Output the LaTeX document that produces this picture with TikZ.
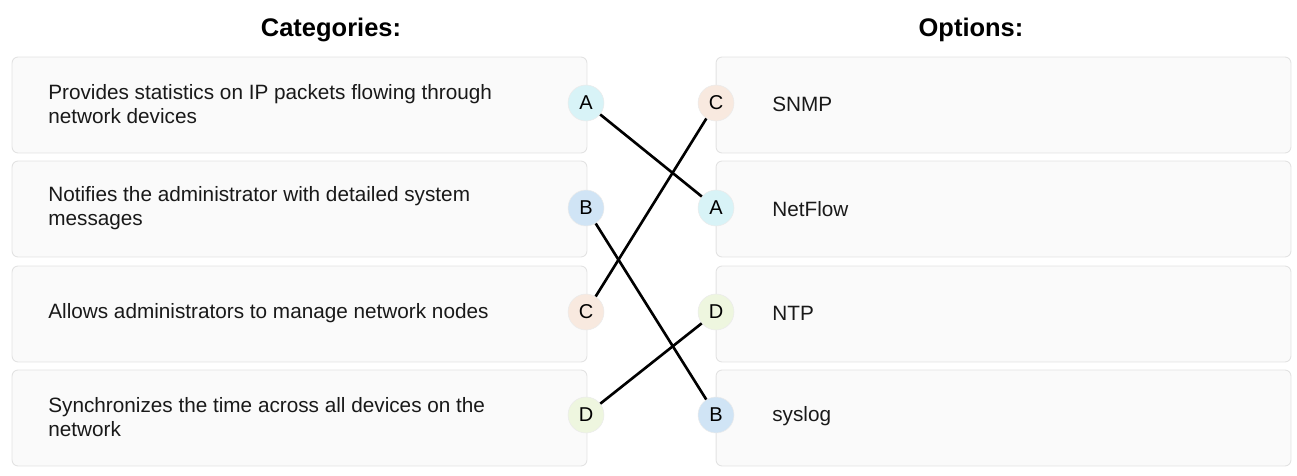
\documentclass[tikz,border=0pt]{standalone}
\usepackage{fontspec}
\setmainfont{Liberation Sans}
\usetikzlibrary{positioning}
\definecolor{boxfill}{HTML}{FAFAFA}
\definecolor{boxline}{HTML}{E2E2E2}
\definecolor{cA}{HTML}{D8F3F7}
\definecolor{cB}{HTML}{D0E4F5}
\definecolor{cC}{HTML}{F8E9DF}
\definecolor{cD}{HTML}{EEF6DF}
\tikzstyle{itemBox} = [rectangle, minimum width=11.5cm, minimum height=1.92cm, rounded corners=0.12cm, draw=boxline, fill=boxfill, line width=0.5pt]
\tikzstyle{itemText} = [anchor=west, align=left, font=\fontsize{11.8}{13.4}\selectfont, inner sep=0pt, text=black!90]
\tikzstyle{tag} = [circle, minimum size=0.72cm, inner sep=0pt, draw=white!92!black, line width=0.3pt, font=\fontsize{11.4}{12}\selectfont]
\tikzstyle{head} = [font=\bfseries\fontsize{14.5}{16}\selectfont]
\tikzstyle{link} = [line width=1.5pt, draw=black]

\begin{document}
\begin{tikzpicture}[x=0.02cm, y=-0.02cm]
    \useasboundingbox (0,0) rectangle (1297,476);
    \node (headL) [head] at (331,30) {Categories:};
    \node (headR) [head] at (971,30) {Options:};

    % categories
    \node (cat1) [itemBox] at (299.5,105) {};
    \node (cat2) [itemBox] at (299.5,209) {};
    \node (cat3) [itemBox] at (299.5,314) {};
    \node (cat4) [itemBox] at (299.5,418) {};
    \node [itemText] at (48,104) {Provides statistics on IP packets flowing through\\network devices};
    \node [itemText] at (48,208) {Notifies the administrator with detailed system\\messages};
    \node [itemText] at (48,313) {Allows administrators to manage network nodes};
    \node [itemText] at (48,417) {Synchronizes the time across all devices on the\\network};

    % options
    \node (opt1) [itemBox] at (1003.5,105) {};
    \node (opt2) [itemBox] at (1003.5,209) {};
    \node (opt3) [itemBox] at (1003.5,314) {};
    \node (opt4) [itemBox] at (1003.5,418) {};
    \node [itemText] at (772,104) {SNMP};
    \node [itemText] at (772,209) {NetFlow};
    \node [itemText] at (772,313) {NTP};
    \node [itemText] at (772,416) {syslog};

    % tags
    \node (lA) [tag, fill=cA] at (586,103) {A};
    \node (lB) [tag, fill=cB] at (586,208) {B};
    \node (lC) [tag, fill=cC] at (586,312) {C};
    \node (lD) [tag, fill=cD] at (586,415) {D};
    \node (rC) [tag, fill=cC] at (716,103) {C};
    \node (rA) [tag, fill=cA] at (716,208) {A};
    \node (rD) [tag, fill=cD] at (716,312) {D};
    \node (rB) [tag, fill=cB] at (716,415) {B};

    \draw [link] (lA) -- (rA);
    \draw [link] (lB) -- (rB);
    \draw [link] (lC) -- (rC);
    \draw [link] (lD) -- (rD);
\end{tikzpicture}
\end{document}
